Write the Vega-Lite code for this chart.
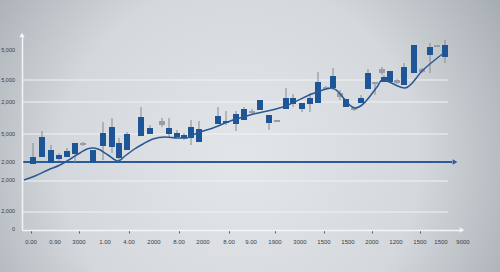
{
  "$schema": "https://vega.github.io/schema/vega-lite/v6.json",
  "width": 440,
  "height": 195,
  "autosize": {"type": "none"},
  "padding": {"left": 22, "top": 35, "right": 38, "bottom": 42},
  "background": "#9aa0a6",
  "config": {"view": {"stroke": null}, "font": "Liberation Sans", "axis": {"labels": false, "zindex": 1, "grid": false, "title": null}},
  "datasets": {
    "bg": [{"x": -22, "x2": 478, "y": -42, "y2": 230}],
    "grid": [{"y": 150, "x": 0, "x2": 426}, {"y": 128, "x": 0, "x2": 426}, {"y": 96, "x": 0, "x2": 426}, {"y": 49, "x": 0, "x2": 426}, {"y": 18, "x": 0, "x2": 426}],
    "flat": [{"x": 0, "y": 68}, {"x": 430, "y": 68}],
    "arrows": [{"x": 440, "y": 0, "k": "ax"}, {"x": 0, "y": 195, "k": "ay"}, {"x": 433, "y": 68, "k": "bl"}],
    "xlabels": [
      {"x": 9, "t": "0.00"}, {"x": 33, "t": "0.90"}, {"x": 57, "t": "3000"}, {"x": 83, "t": "1.00"}, {"x": 107, "t": "4.00"}, {"x": 132, "t": "2000"}, {"x": 157, "t": "8.00"}, {"x": 181, "t": "2000"}, {"x": 207, "t": "8.00"}, {"x": 229, "t": "9.00"}, {"x": 253, "t": "1900"}, {"x": 278, "t": "3000"}, {"x": 302, "t": "1500"}, {"x": 326, "t": "1500"}, {"x": 350, "t": "2000"}, {"x": 374, "t": "1200"}, {"x": 398, "t": "1500"}, {"x": 419, "t": "1500"}, {"x": 441, "t": "9000"}
    ],
    "ylabels": [
      {"y": 180, "t": "5,000"}, {"y": 150, "t": "5,000"}, {"y": 128, "t": "2,000"}, {"y": 96, "t": "5,000"}, {"y": 68, "t": "2,000"}, {"y": 50, "t": "2,000"}, {"y": 19, "t": "2,000"}, {"y": 1, "t": "0"}
    ],
    "curve": [
      {"x": 2, "y": 50}, {"x": 13, "y": 54}, {"x": 26, "y": 60}, {"x": 38, "y": 65}, {"x": 50, "y": 72}, {"x": 58, "y": 77}, {"x": 65, "y": 81}, {"x": 71, "y": 82}, {"x": 76, "y": 81}, {"x": 86, "y": 75}, {"x": 96, "y": 69}, {"x": 103, "y": 74}, {"x": 111, "y": 80}, {"x": 121, "y": 86}, {"x": 131, "y": 91}, {"x": 143, "y": 93}, {"x": 156, "y": 92}, {"x": 165, "y": 92}, {"x": 173, "y": 96}, {"x": 191, "y": 102}, {"x": 211, "y": 110}, {"x": 228, "y": 115}, {"x": 261, "y": 123}, {"x": 295, "y": 138}, {"x": 310, "y": 142}, {"x": 333, "y": 122}, {"x": 355, "y": 143}, {"x": 360, "y": 150}, {"x": 383, "y": 142}, {"x": 401, "y": 160}, {"x": 423, "y": 178}
    ],
    "candles": [
      {"x": 11, "t": 73, "b": 66, "hi": 87, "lo": 66, "c": "b"},
      {"x": 20, "t": 93, "b": 73, "hi": 99, "lo": 73, "c": "b"},
      {"x": 29, "t": 80, "b": 67, "hi": 85, "lo": 67, "c": "b"},
      {"x": 37, "t": 75, "b": 71, "hi": 77, "lo": 69, "c": "b"},
      {"x": 45, "t": 79, "b": 73, "hi": 82, "lo": 73, "c": "b"},
      {"x": 53, "t": 87, "b": 76, "hi": 87, "lo": 68, "c": "b"},
      {"x": 61, "t": 87, "b": 85, "hi": 88, "lo": 84, "c": "g"},
      {"x": 71, "t": 80, "b": 67, "hi": 80, "lo": 67, "c": "b"},
      {"x": 81, "t": 97, "b": 84, "hi": 108, "lo": 70, "c": "b"},
      {"x": 90, "t": 103, "b": 83, "hi": 112, "lo": 77, "c": "b"},
      {"x": 97, "t": 87, "b": 72, "hi": 92, "lo": 70, "c": "b"},
      {"x": 105, "t": 96, "b": 80, "hi": 98, "lo": 80, "c": "b"},
      {"x": 119, "t": 113, "b": 94, "hi": 123, "lo": 94, "c": "b"},
      {"x": 128, "t": 102, "b": 96, "hi": 105, "lo": 96, "c": "b"},
      {"x": 140, "t": 109, "b": 105, "hi": 112, "lo": 103, "c": "g"},
      {"x": 147, "t": 102, "b": 96, "hi": 112, "lo": 93, "c": "b"},
      {"x": 155, "t": 97, "b": 93, "hi": 100, "lo": 93, "c": "b"},
      {"x": 162, "t": 95, "b": 92, "hi": 97, "lo": 90, "c": "b"},
      {"x": 169, "t": 103, "b": 92, "hi": 110, "lo": 85, "c": "b"},
      {"x": 177, "t": 101, "b": 88, "hi": 109, "lo": 88, "c": "b"},
      {"x": 196, "t": 114, "b": 106, "hi": 123, "lo": 106, "c": "b"},
      {"x": 204, "t": 109, "b": 107, "hi": 119, "lo": 105, "c": "b"},
      {"x": 214, "t": 116, "b": 106, "hi": 119, "lo": 99, "c": "b"},
      {"x": 222, "t": 121, "b": 110, "hi": 123, "lo": 110, "c": "b"},
      {"x": 230, "t": 119, "b": 117, "hi": 121, "lo": 115, "c": "g"},
      {"x": 238, "t": 130, "b": 120, "hi": 130, "lo": 120, "c": "b"},
      {"x": 247, "t": 115, "b": 107, "hi": 115, "lo": 100, "c": "b"},
      {"x": 255, "t": 110, "b": 108, "hi": 110, "lo": 108, "c": "g"},
      {"x": 264, "t": 132, "b": 121, "hi": 142, "lo": 121, "c": "b"},
      {"x": 271, "t": 132, "b": 126, "hi": 136, "lo": 123, "c": "b"},
      {"x": 280, "t": 127, "b": 121, "hi": 127, "lo": 118, "c": "b"},
      {"x": 288, "t": 132, "b": 126, "hi": 137, "lo": 118, "c": "b"},
      {"x": 296, "t": 148, "b": 127, "hi": 158, "lo": 127, "c": "b"},
      {"x": 304, "t": 143, "b": 141, "hi": 144, "lo": 140, "c": "g"},
      {"x": 311, "t": 154, "b": 142, "hi": 162, "lo": 140, "c": "b"},
      {"x": 318, "t": 137, "b": 133, "hi": 140, "lo": 130, "c": "g"},
      {"x": 324, "t": 131, "b": 123, "hi": 131, "lo": 123, "c": "b"},
      {"x": 332, "t": 122, "b": 120, "hi": 123, "lo": 119, "c": "g"},
      {"x": 339, "t": 132, "b": 127, "hi": 135, "lo": 127, "c": "b"},
      {"x": 346, "t": 157, "b": 141, "hi": 161, "lo": 141, "c": "b"},
      {"x": 353, "t": 148, "b": 146, "hi": 148, "lo": 135, "c": "g"},
      {"x": 360, "t": 161, "b": 157, "hi": 163, "lo": 155, "c": "g"},
      {"x": 362, "t": 153, "b": 148, "hi": 155, "lo": 148, "c": "b"},
      {"x": 368, "t": 159, "b": 148, "hi": 159, "lo": 148, "c": "b"},
      {"x": 375, "t": 150, "b": 147, "hi": 151, "lo": 146, "c": "g"},
      {"x": 382, "t": 163, "b": 145, "hi": 167, "lo": 145, "c": "b"},
      {"x": 392, "t": 185, "b": 157, "hi": 185, "lo": 157, "c": "b"},
      {"x": 400, "t": 161, "b": 158, "hi": 162, "lo": 157, "c": "g"},
      {"x": 408, "t": 183, "b": 175, "hi": 187, "lo": 157, "c": "b"},
      {"x": 415, "t": 185, "b": 183, "hi": 185, "lo": 183, "c": "g"},
      {"x": 423, "t": 185, "b": 173, "hi": 190, "lo": 167, "c": "b"}
    ]
  },
  "layer": [
    {
      "data": {"name": "bg"},
      "mark": {"type": "rect", "fill": {"gradient": "radial", "x1": 0.48, "y1": 0.55, "r1": 0, "x2": 0.48, "y2": 0.55, "r2": 0.72, "stops": [{"offset": 0, "color": "#e3e6e9"}, {"offset": 0.5, "color": "#d4d8dc"}, {"offset": 0.8, "color": "#adb3b9"}, {"offset": 1, "color": "#8c939a"}]}},
      "encoding": {
        "x": {"field": "x", "type": "quantitative", "scale": {"domain": [0, 440], "nice": false, "zero": false, "padding": 0},
          "axis": {"title": null, "grid": false, "labels": false, "zindex": 1, "domainColor": "#f3f4f5", "domainWidth": 1.5, "tickColor": "#5a5f66", "tickSize": 3, "tickWidth": 1,
            "values": [9, 33, 57, 83, 107, 132, 157, 181, 207, 229, 253, 278, 302, 326, 350, 374, 398, 419]}},
        "x2": {"field": "x2"},
        "y": {"field": "y", "type": "quantitative", "scale": {"domain": [0, 195], "nice": false, "zero": false, "padding": 0},
          "axis": {"title": null, "grid": false, "labels": false, "zindex": 1, "domainColor": "#f3f4f5", "domainWidth": 1.5, "ticks": false, "values": [1]}},
        "y2": {"field": "y2"}
      }
    },
    {
      "data": {"name": "grid"},
      "mark": {"type": "rule", "color": "#f1f3f4", "strokeWidth": 1},
      "encoding": {"x": {"field": "x", "type": "quantitative"}, "x2": {"field": "x2"}, "y": {"field": "y", "type": "quantitative"}}
    },
    {
      "data": {"name": "flat"},
      "mark": {"type": "line", "color": "#2b5b99", "strokeWidth": 2},
      "encoding": {"x": {"field": "x", "type": "quantitative"}, "y": {"field": "y", "type": "quantitative"}}
    },
    {
      "data": {"name": "candles"},
      "mark": {"type": "rule", "color": "#858b93", "strokeWidth": 1},
      "encoding": {"x": {"field": "x", "type": "quantitative"}, "y": {"field": "lo", "type": "quantitative"}, "y2": {"field": "hi"}}
    },
    {
      "data": {"name": "candles"},
      "mark": {"type": "bar", "size": 6},
      "encoding": {"x": {"field": "x", "type": "quantitative"}, "y": {"field": "b", "type": "quantitative"}, "y2": {"field": "t"},
        "color": {"field": "c", "type": "nominal", "scale": {"domain": ["b", "g"], "range": ["#1d5597", "#9a9ea4"]}, "legend": null}}
    },
    {
      "data": {"name": "curve"},
      "mark": {"type": "line", "color": "#2a5894", "strokeWidth": 1.5, "interpolate": "monotone"},
      "encoding": {"x": {"field": "x", "type": "quantitative"}, "y": {"field": "y", "type": "quantitative"}}
    },
    {
      "data": {"name": "arrows"},
      "mark": {"type": "point", "filled": true, "opacity": 1},
      "encoding": {"x": {"field": "x", "type": "quantitative"}, "y": {"field": "y", "type": "quantitative"},
        "shape": {"field": "k", "type": "nominal", "scale": {"domain": ["ax", "ay", "bl"], "range": ["triangle-right", "triangle-up", "triangle-right"]}, "legend": null},
        "color": {"field": "k", "type": "nominal", "scale": {"domain": ["ax", "ay", "bl"], "range": ["#f3f4f5", "#f3f4f5", "#2b5b99"]}, "legend": null},
        "size": {"value": 30}}
    },
    {
      "data": {"name": "xlabels"},
      "mark": {"type": "text", "fontSize": 6, "color": "#3a3f45", "dy": 12, "align": "center", "baseline": "middle"},
      "encoding": {"x": {"field": "x", "type": "quantitative"}, "y": {"datum": 0, "type": "quantitative"}, "text": {"field": "t"}}
    },
    {
      "data": {"name": "ylabels"},
      "mark": {"type": "text", "fontSize": 5.5, "color": "#3a3f45", "dx": -7, "align": "right", "baseline": "middle"},
      "encoding": {"x": {"datum": 0, "type": "quantitative"}, "y": {"field": "y", "type": "quantitative"}, "text": {"field": "t"}}
    }
  ],
  "resolve": {"scale": {"color": "independent", "shape": "independent"}}
}
